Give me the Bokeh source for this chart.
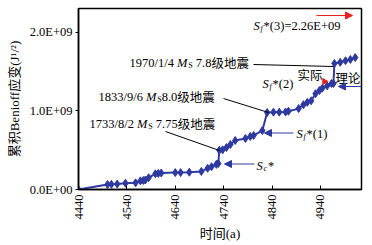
from math import pi
from bokeh.plotting import figure
from bokeh.models import (ColumnDataSource, FixedTicker, CustomJSTickFormatter,
                          Arrow, NormalHead)
from bokeh.embed import file_html
from bokeh.resources import INLINE

# ---------------- data ----------------
years = [4440, 4500, 4508, 4520, 4537, 4558, 4568, 4574, 4578, 4585,
         4599, 4605, 4611, 4640, 4651, 4669, 4694, 4707, 4715, 4725,
         4729, 4731, 4738, 4746, 4754, 4764, 4785, 4795, 4802, 4820,
         4830, 4843, 4855, 4868, 4874, 4895, 4905, 4913, 4921, 4930,
         4938, 4944, 4954, 4963, 4967, 4969, 4981, 4992, 5002, 5012]
strain_e9 = [0.0, 0.064, 0.066, 0.07, 0.08, 0.085, 0.11, 0.115, 0.12, 0.15,
             0.2, 0.205, 0.21, 0.215, 0.215, 0.22, 0.23, 0.27, 0.29, 0.32,
             0.33, 0.50, 0.505, 0.535, 0.573, 0.624, 0.65, 0.675, 0.688, 0.75,
             0.98, 0.985, 0.985, 0.987, 0.997, 1.03, 1.08, 1.11, 1.13, 1.22,
             1.26, 1.29, 1.32, 1.35, 1.35, 1.605, 1.62, 1.64, 1.656, 1.68]
x_ticks = [4440, 4540, 4640, 4740, 4840, 4940]
y_ticks = [0, 1.0e9, 2.0e9]
x_label = "时间(a)"
y_label = "累积Benioff应变(J¹/²)"

strain = [v * 1e9 for v in strain_e9]

X0, X1 = 4440, 5025
Y0, Y1 = 0, 2.305e9
W, H = 372, 245
FL, FR, FT, FB = 78, 361, 8, 189

BLUE = "#2e3a9f"
RED = "#e8231f"
LAT = "Liberation Serif"
CJK = "Noto Sans CJK SC"
FS = 12.5


def X(px):
    return X0 + (px - FL) * (X1 - X0) / (FR - FL)


def Y(py):
    return Y0 + (FB - py) * (Y1 - Y0) / (FB - FT)


p = figure(width=W, height=H, x_range=(X0, X1), y_range=(Y0, Y1),
           output_backend="svg", toolbar_location=None,
           min_border_left=FL, min_border_right=W - FR,
           min_border_top=FT, min_border_bottom=H - FB)
p.background_fill_color = "white"
p.border_fill_color = "white"
p.outline_line_color = "black"
p.outline_line_width = 1.5
p.grid.visible = False

p.xaxis.ticker = FixedTicker(ticks=x_ticks)
p.yaxis.ticker = FixedTicker(ticks=y_ticks)
p.yaxis.formatter = CustomJSTickFormatter(code="""
var s = tick.toExponential(1).toUpperCase();
return s.replace(/E([+-])(\\d)$/, 'E$10$2');
""")
for ax in (p.xaxis[0], p.yaxis[0]):
    ax.axis_line_color = "black"
    ax.axis_line_width = 1.5
    ax.major_tick_line_color = "black"
    ax.minor_tick_line_color = None
    ax.major_label_text_font = LAT
    ax.major_label_text_font_size = "12.5px"
    ax.major_label_text_color = "black"
    ax.axis_label_text_font = LAT + ", " + CJK
    ax.axis_label_text_font_style = "normal"
    ax.axis_label_text_color = "black"

p.xaxis.major_tick_in = 4
p.xaxis.major_tick_out = 0
p.xaxis.major_label_orientation = pi / 2
p.xaxis.major_label_standoff = 5
p.xaxis.axis_label = x_label
p.xaxis.axis_label_text_font_size = "13px"
p.xaxis.axis_label_standoff = 3

p.yaxis.major_tick_in = 0
p.yaxis.major_tick_out = 3
p.yaxis.major_label_standoff = 3
p.yaxis.axis_label = y_label
p.yaxis.axis_label_text_font_size = "13px"
p.yaxis.axis_label_standoff = 5

# ---------------- series ----------------
p.line(years, strain, line_color=BLUE, line_width=2)
p.scatter(years, strain, marker="diamond", size=8,
          fill_color=BLUE, line_color=BLUE)

# ---------------- leader lines ----------------
leaders = [((253, 64), (333, 66)),
           ((223, 98), (268, 112)),
           ((165, 131), (219, 150))]
p.segment(x0=[X(a[0]) for a, b in leaders], y0=[Y(a[1]) for a, b in leaders],
          x1=[X(b[0]) for a, b in leaders], y1=[Y(b[1]) for a, b in leaders],
          line_color="black", line_width=1)

# ---------------- arrows ----------------
def arrow(a, b, color):
    p.add_layout(Arrow(x_start=X(a[0]), y_start=Y(a[1]), x_end=X(b[0]), y_end=Y(b[1]),
                       line_color=color, line_width=1,
                       end=NormalHead(size=7, fill_color=color, line_color=color)))


arrow((316, 15), (352, 15), RED)
arrow((293, 132.5), (264, 132.5), BLUE)
arrow((254, 163.5), (224, 163.5), BLUE)
arrow((361, 86), (338, 86), BLUE)
p.scatter([X(324)], [Y(81)], marker="triangle", angle=-pi / 2, size=6,
          fill_color=RED, line_color=RED)

# ---------------- rich text ----------------
REG = {str(d): 500 for d in range(10)}
REG.update({'/': 278, '.': 250, ' ': 250, '(': 333, ')': 333, '*': 500,
            '=': 564, '+': 564, 'E': 611, 'M': 889, 'S': 556, 'a': 444})
ITA = {'M': 833, 'S': 500, 'f': 278, 'c': 444}
KINDS = {
    "r": (LAT, FS, "normal", 0, REG),
    "i": (LAT, FS, "italic", 0, ITA),
    "sub": (LAT, 8, "normal", 3, REG),
    "isub": (LAT, 8, "italic", 3, ITA),
    "cjk": (CJK, FS, "normal", 0, None),
}

rows = dict(x=[], y=[], text=[], font=[], size=[], style=[], color=[])


def rich(px, py, segs, color="black"):
    cur = px
    for txt, kind in segs:
        font, size, style, dy, table = KINDS[kind]
        # svg collapses leading blanks: turn them into an offset
        while txt.startswith(" "):
            cur += 250 * size / 1000.0
            txt = txt[1:]
        rows["x"].append(X(cur))
        rows["y"].append(Y(py + dy))
        rows["text"].append(txt)
        rows["font"].append(font)
        rows["size"].append(f"{size}px")
        rows["style"].append(style)
        rows["color"].append(color)
        if table is None:
            w = size * len(txt)
        else:
            w = sum(table.get(ch, 500) for ch in txt) * size / 1000.0
        cur += w + (0.8 if kind in ("i", "isub") else 0)


rich(253, 25, [("S", "i"), ("f", "isub"), ("*(3)=2.26E+09", "r")])
rich(129, 62, [("1970/1/4 ", "r"), ("M", "i"), ("S", "sub"), (" 7.8", "r"), ("级地震", "cjk")])
rich(262, 83, [("S", "i"), ("f", "isub"), ("*(2)", "r")])
rich(297, 74, [("实际", "cjk")])
rich(335, 77, [("理论", "cjk")])
rich(98, 96, [("1833/9/6 ", "r"), ("M", "i"), ("S", "sub"), ("8.0", "r"), ("级地震", "cjk")])
rich(89, 123, [("1733/8/2 ", "r"), ("M", "i"), ("S", "sub"), (" 7.75", "r"), ("级地震", "cjk")])
rich(296, 133, [("S", "i"), ("f", "isub"), ("*(1)", "r")])
rich(256, 165, [("S", "i"), ("c", "isub"), ("*", "r")])

src = ColumnDataSource(rows)
p.text(x="x", y="y", text="text", source=src, text_font="font",
       text_font_size="size", text_font_style="style", text_color="color",
       text_baseline="middle", text_align="left")

open("out.html", "w").write(file_html(p, INLINE))
